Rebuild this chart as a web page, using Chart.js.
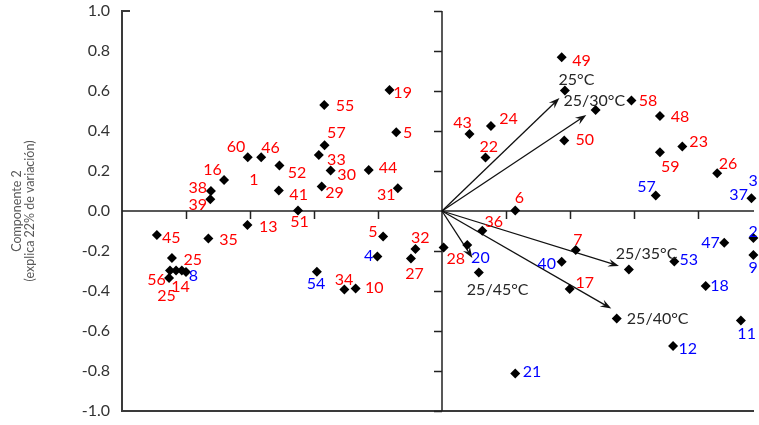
<!DOCTYPE html>
<html>
<head>
<meta charset="utf-8">
<script src="https://cdn.jsdelivr.net/npm/chart.js@4.4.0/dist/chart.umd.min.js"></script>
<style>
  html, body { margin: 0; padding: 0; background: #fff; }
  #wrap { width: 759px; height: 425px; }
</style>
</head>
<body>
<div id="wrap"><canvas id="biplot"></canvas></div>
<script>
// Componente 1 / Componente 2 de cada muestra (rombos negros)
const pointX = [
  -0.164, -0.368, -0.143, -0.367, -0.385, -0.607, -0.565, -0.508, -0.348, -0.229,
  -0.681, -0.376, -0.138, -0.722, -0.724, -0.510, -0.450, -0.608, -0.891, -0.730,
  -0.184, -0.083, -0.202, -0.097, -0.844, -0.850, -0.831, -0.813, -0.800, -0.853,
  -0.391, -0.305, -0.270,
  0.374, 0.384, 0.480, 0.592, 0.681, 0.086, 0.153, 0.136, 0.382, 0.751,
  0.681, 0.860, 0.668, 0.967, 0.229, 0.126, 0.079, 0.005, 0.115, 0.418,
  0.374, 0.399, 0.584, 0.726, 0.882, 0.973, 0.973, 0.824, 0.546, 0.722,
  0.934, 0.229
];
const pointY = [
  0.605, 0.530, 0.394, 0.329, 0.280, 0.269, 0.269, 0.227, 0.202, 0.205,
  0.155, 0.122, 0.114, 0.100, 0.059, 0.102, 0.003, -0.070, -0.120, -0.137,
  -0.128, -0.190, -0.228, -0.237, -0.235, -0.298, -0.298, -0.298, -0.305, -0.335,
  -0.304, -0.392, -0.387,
  0.769, 0.603, 0.505, 0.553, 0.475, 0.385, 0.425, 0.267, 0.352, 0.322,
  0.294, 0.189, 0.077, 0.064, 0.002, -0.099, -0.170, -0.183, -0.308, -0.195,
  -0.254, -0.390, -0.292, -0.252, -0.159, -0.135, -0.220, -0.375, -0.537, -0.675,
  -0.547, -0.812
];

// números de muestra en rojo
const redLabels = [
  '19', '55', '5', '57', '33', '60', '46', '52', '30', '44', '16', '1', '29', '31',
  '38', '39', '41', '51', '13', '45', '35', '5', '32', '27', '25', '56', '14', '25',
  '34', '10',
  '49', '58', '48', '43', '24', '22', '50', '23', '59', '26', '6', '36', '28', '7', '17'
];
const redLabelX = [
  -0.123, -0.303, -0.107, -0.330, -0.330, -0.644, -0.536, -0.453, -0.298, -0.169, -0.717, -0.588, -0.336, -0.174,
  -0.763, -0.763, -0.448, -0.445, -0.543, -0.846, -0.667, -0.216, -0.068, -0.086, -0.779, -0.892, -0.817, -0.861,
  -0.306, -0.212,
  0.436, 0.644, 0.744, 0.064, 0.208, 0.146, 0.446, 0.802, 0.713, 0.894, 0.242, 0.162, 0.043, 0.425, 0.446
];
const redLabelY = [
  0.590, 0.527, 0.392, 0.392, 0.255, 0.322, 0.314, 0.192, 0.180, 0.214, 0.205, 0.155, 0.089, 0.080,
  0.114, 0.030, 0.080, -0.055, -0.079, -0.132, -0.142, -0.104, -0.132, -0.315, -0.245, -0.345, -0.380, -0.425,
  -0.345, -0.382,
  0.752, 0.552, 0.472, 0.442, 0.460, 0.319, 0.355, 0.347, 0.219, 0.234, 0.064, -0.054, -0.237, -0.142, -0.360
];

// números de muestra en azul
const blueLabels = ['4', '8', '54', '57', '37', '3', '20', '40', '53', '47', '18', '2', '9', '11', '12', '21'];
const blueLabelX = [-0.229, -0.777, -0.394, 0.639, 0.927, 0.972, 0.120, 0.327, 0.771, 0.839, 0.867, 0.972, 0.972, 0.952, 0.768, 0.281];
const blueLabelY = [-0.225, -0.325, -0.365, 0.122, 0.080, 0.150, -0.235, -0.265, -0.245, -0.160, -0.373, -0.104, -0.285, -0.612, -0.687, -0.804];

// vectores de temperatura
const vectorNames = ['25°C', '25/30°C', '25/35°C', '25/40°C', '25/45°C'];
const vectorX = [0.367, 0.451, 0.553, 0.529, 0.095];
const vectorY = [0.565, 0.480, -0.275, -0.488, -0.235];
const vectorLabelX = [0.420, 0.476, 0.639, 0.674, 0.174];
const vectorLabelY = [0.655, 0.550, -0.213, -0.540, -0.395];

const axisTitle = ['Componente 2', '(explica 22% de variación)'];

const FONT = 'Lato, "Open Sans", sans-serif';

// ejes cruzados en 0, marco izquierdo/inferior y flechas
const biplotAxes = {
  id: 'biplotAxes',
  beforeDatasetsDraw(chart) {
    const { ctx, chartArea: a, scales: { x, y } } = chart;
    const x0 = x.getPixelForValue(0);
    const y0 = y.getPixelForValue(0);
    ctx.save();

    // marco
    ctx.strokeStyle = '#3a3a3a';
    ctx.lineWidth = 2;
    ctx.beginPath();
    ctx.moveTo(a.left + 8, a.top);
    ctx.lineTo(a.left, a.top);
    ctx.lineTo(a.left, a.bottom);
    ctx.lineTo(a.right, a.bottom);
    ctx.stroke();

    // ejes en cero
    ctx.strokeStyle = '#222';
    ctx.lineWidth = 1.5;
    ctx.beginPath();
    ctx.moveTo(a.left, y0);
    ctx.lineTo(a.right, y0);
    ctx.moveTo(x0, a.top);
    ctx.lineTo(x0, a.bottom);
    // marcas
    for (let v = -0.8; v < 0.95; v += 0.2) {
      if (Math.abs(v) < 0.01) continue;
      const px = Math.round(x.getPixelForValue(v)) + 0.5;
      ctx.moveTo(px, y0);
      ctx.lineTo(px, y0 + 8);
    }
    for (let v = -1; v < 1.01; v += 0.2) {
      if (Math.abs(v) < 0.01) continue;
      const py = Math.round(y.getPixelForValue(v)) + 0.5;
      ctx.moveTo(x0, py);
      ctx.lineTo(x0 - 8, py);
    }
    ctx.stroke();

    // flechas
    ctx.strokeStyle = '#111';
    ctx.fillStyle = '#111';
    ctx.lineWidth = 1.3;
    vectorX.forEach((vx, i) => {
      const tx = x.getPixelForValue(vx);
      const ty = y.getPixelForValue(vectorY[i]);
      const ang = Math.atan2(ty - y0, tx - x0);
      ctx.beginPath();
      ctx.moveTo(x0, y0);
      ctx.lineTo(tx - 6 * Math.cos(ang), ty - 6 * Math.sin(ang));
      ctx.stroke();
      ctx.beginPath();
      ctx.moveTo(tx, ty);
      ctx.lineTo(tx - 11 * Math.cos(ang) + 4 * Math.sin(ang), ty - 11 * Math.sin(ang) - 4 * Math.cos(ang));
      ctx.lineTo(tx - 7 * Math.cos(ang), ty - 7 * Math.sin(ang));
      ctx.lineTo(tx - 11 * Math.cos(ang) - 4 * Math.sin(ang), ty - 11 * Math.sin(ang) + 4 * Math.cos(ang));
      ctx.closePath();
      ctx.fill();
    });
    ctx.restore();
  },
  afterDatasetsDraw(chart) {
    const { ctx, scales: { x, y } } = chart;
    ctx.save();
    ctx.font = '16px ' + FONT;
    ctx.textAlign = 'center';
    ctx.textBaseline = 'middle';

    ctx.fillStyle = '#ff0000';
    redLabels.forEach((t, i) => {
      ctx.fillText(t, x.getPixelForValue(redLabelX[i]), y.getPixelForValue(redLabelY[i]));
    });
    ctx.fillStyle = '#0000ff';
    blueLabels.forEach((t, i) => {
      ctx.fillText(t, x.getPixelForValue(blueLabelX[i]), y.getPixelForValue(blueLabelY[i]));
    });
    ctx.fillStyle = '#262626';
    vectorNames.forEach((t, i) => {
      ctx.fillText(t, x.getPixelForValue(vectorLabelX[i]), y.getPixelForValue(vectorLabelY[i]));
    });

    // titulo del eje Y (dos lineas, girado)
    ctx.fillStyle = '#595959';
    ctx.font = '12.5px ' + FONT;
    ctx.translate(0, y.getPixelForValue(0));
    ctx.rotate(-Math.PI / 2);
    ctx.fillText(axisTitle[0], 0, 17);
    ctx.fillText(axisTitle[1], 0, 30);
    ctx.restore();
  }
};

new Chart(document.getElementById('biplot'), {
  type: 'scatter',
  data: {
    datasets: [{
      data: pointX.map((v, i) => ({ x: v, y: pointY[i] })),
      pointStyle: 'rectRot',
      pointRadius: 5,
      pointBackgroundColor: '#000',
      pointBorderWidth: 0,
      clip: false
    }]
  },
  options: {
    responsive: true,
    maintainAspectRatio: false,
    animation: false,
    layout: { padding: { left: 0, right: 0, top: 11, bottom: 14 } },
    plugins: {
      legend: { display: false },
      tooltip: { enabled: false }
    },
    scales: {
      x: {
        type: 'linear',
        min: -1,
        max: 0.975,
        display: false
      },
      y: {
        min: -1,
        max: 1,
        border: { display: false },
        grid: { display: false, drawTicks: false },
        afterFit(scale) {
          scale.width = 122;
          scale.paddingTop = 0;
          scale.paddingBottom = 0;
        },
        ticks: {
          stepSize: 0.2,
          padding: 12,
          color: '#333',
          font: { family: FONT, size: 16 },
          callback: v => v.toFixed(1)
        }
      }
    }
  },
  plugins: [biplotAxes]
});
</script>
</body>
</html>
